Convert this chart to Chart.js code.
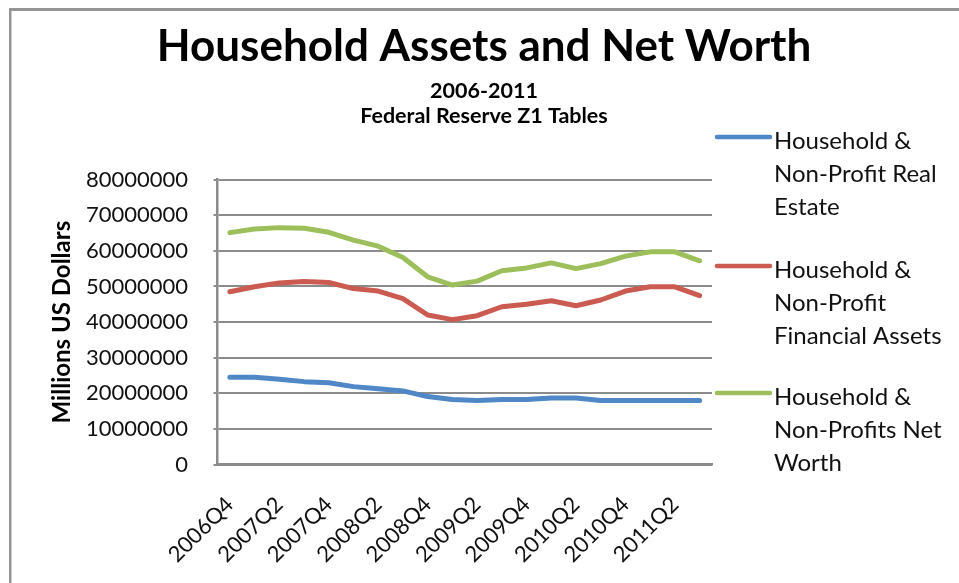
<!DOCTYPE html>
<html>
<head>
<meta charset="utf-8">
<title>Household Assets and Net Worth</title>
<script src="https://cdn.jsdelivr.net/npm/chart.js@4.4.1/dist/chart.umd.min.js"></script>
<style>
  html, body { margin: 0; padding: 0; background: #fff; }
  #wrap { position: relative; width: 959px; height: 583px; }
</style>
</head>
<body>
<div id="wrap"><canvas id="grafico" width="959" height="583"></canvas></div>
<script>
// Quarterly series, Federal Reserve Z1 tables (millions of US dollars)
const quarters = [
  '2006Q4', '2007Q1', '2007Q2', '2007Q3', '2007Q4', '2008Q1', '2008Q2', '2008Q3',
  '2008Q4', '2009Q1', '2009Q2', '2009Q3', '2009Q4', '2010Q1', '2010Q2', '2010Q3',
  '2010Q4', '2011Q1', '2011Q2', '2011Q3'
];
const realEstate = [
  24500000, 24500000, 24000000, 23300000, 23000000, 21900000, 21300000, 20700000,
  19100000, 18300000, 18000000, 18300000, 18300000, 18700000, 18700000, 18000000,
  18000000, 18000000, 18000000, 18000000
];
const financialAssets = [
  48500000, 49900000, 51000000, 51400000, 51100000, 49400000, 48700000, 46600000,
  42000000, 40700000, 41800000, 44300000, 45000000, 46000000, 44600000, 46200000,
  48700000, 49900000, 49900000, 47400000
];
const netWorth = [
  65100000, 66100000, 66500000, 66300000, 65200000, 63000000, 61300000, 58100000,
  52700000, 50400000, 51500000, 54400000, 55200000, 56600000, 55000000, 56400000,
  58500000, 59700000, 59700000, 57200000
];
const yMin = 0, yMax = 80000000, yStep = 10000000;

const chartTitle = 'Household Assets and Net Worth';
const chartSubtitles = ['2006-2011', 'Federal Reserve Z1 Tables'];
const yAxisTitle = 'Millions US Dollars';
const legendLines = [
  ['Household &', 'Non-Profit Real', 'Estate'],
  ['Household &', 'Non-Profit', 'Financial Assets'],
  ['Household &', 'Non-Profits Net', 'Worth']
];
const seriesColors = ['#4F87C7', '#CB5A51', '#9DBF5B'];

const FONT = 'Lato, "Open Sans", sans-serif';
const GRID = '#8c8c8c';

// frame, headings and the wrapped legend are painted by hand
const decor = {
  id: 'decor',
  beforeDraw(chart) {
    const ctx = chart.ctx;
    ctx.save();
    ctx.fillStyle = '#959595';
    ctx.fillRect(9, 8, 950, 3);
    ctx.fillRect(9, 8, 2.5, 575);
    ctx.restore();
  },
  afterDraw(chart) {
    const ctx = chart.ctx;
    ctx.save();
    ctx.fillStyle = '#000';
    ctx.textAlign = 'center';
    ctx.textBaseline = 'alphabetic';
    ctx.font = 'bold 44px ' + FONT;
    ctx.fillText(chartTitle, 484, 61);
    ctx.font = 'bold 21.5px ' + FONT;
    ctx.fillText(chartSubtitles[0], 484, 98);
    ctx.fillText(chartSubtitles[1], 484, 123);

    const rows = [137, 266, 393];
    ctx.textAlign = 'left';
    ctx.font = '24px ' + FONT;
    chart.data.datasets.forEach((ds, i) => {
      const y = rows[i];
      ctx.strokeStyle = ds.borderColor;
      ctx.lineWidth = 4.5;
      ctx.lineCap = 'round';
      ctx.beginPath();
      ctx.moveTo(717, y);
      ctx.lineTo(770, y);
      ctx.stroke();
      ctx.fillStyle = '#111';
      legendLines[i].forEach((line, j) => {
        ctx.fillText(line, 774, y + 12 + j * 33);
      });
    });
    ctx.restore();
  }
};

const makeSet = (i, values) => ({
  label: legendLines[i].join(' '),
  data: values,
  borderColor: seriesColors[i],
  backgroundColor: seriesColors[i],
  borderWidth: 5,
  borderCapStyle: 'round',
  borderJoinStyle: 'round',
  pointRadius: 0,
  tension: 0
});

new Chart(document.getElementById('grafico'), {
  type: 'line',
  data: {
    labels: quarters,
    datasets: [
      makeSet(0, realEstate),
      makeSet(1, financialAssets),
      makeSet(2, netWorth)
    ]
  },
  options: {
    responsive: false,
    animation: false,
    devicePixelRatio: 1,
    layout: { padding: { top: 179.5, left: 40, right: 247, bottom: 0 } },
    plugins: {
      legend: { display: false },
      title: { display: false },
      tooltip: { enabled: false }
    },
    scales: {
      x: {
        offset: true,
        grid: { display: false, drawTicks: false },
        border: { display: true, color: GRID, width: 2.5 },
        ticks: {
          autoSkip: false,
          maxRotation: 45,
          minRotation: 45,
          padding: 27,
          color: '#111',
          font: { family: FONT, size: 22 },
          callback: function (val, idx) {
            return idx % 2 === 0 ? this.getLabelForValue(val) : '';
          }
        },
        afterFit: (s) => { s.height = 118.3; }
      },
      y: {
        min: yMin,
        max: yMax,
        grid: { color: GRID, lineWidth: 2, tickLength: 4 },
        border: { display: true, color: GRID, width: 2.5 },
        ticks: {
          stepSize: yStep,
          padding: 25.5,
          color: '#111',
          font: { family: FONT, size: 22 },
          callback: (v) => String(v)
        },
        title: {
          display: true,
          text: yAxisTitle,
          color: '#000',
          padding: { top: 8, bottom: 0 },
          font: { family: FONT, size: 24, weight: 'bold' }
        },
        afterFit: (s) => { s.width = 177.5; }
      }
    }
  },
  plugins: [decor]
});
</script>
</body>
</html>
